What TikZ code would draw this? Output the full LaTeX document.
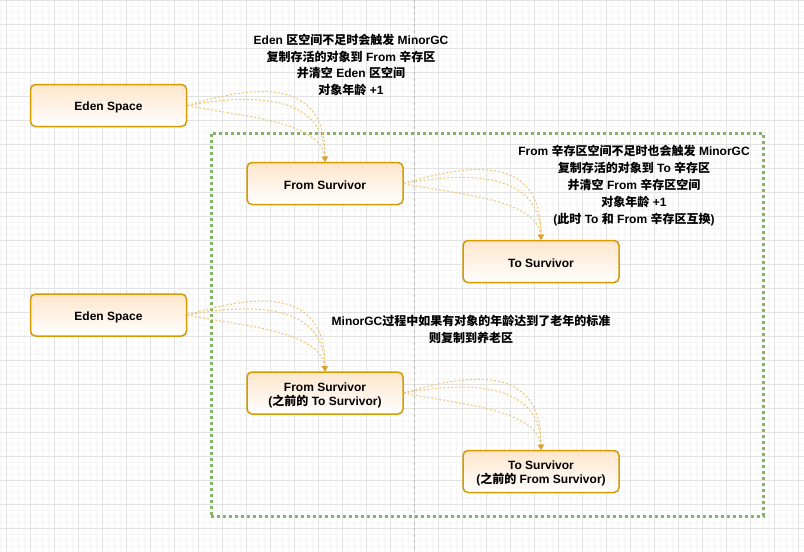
\documentclass[tikz,border=0pt]{standalone}
\usepackage{fontspec}
\setmainfont{Liberation Sans}
\newfontfamily\cjk{Noto Sans CJK SC}
\usetikzlibrary{arrows.meta}
\newcommand{\zh}[1]{{\cjk #1}}
\definecolor{nodeline}{HTML}{D79B00}
\definecolor{nodefill}{HTML}{FFE6CC}
\definecolor{edgec}{HTML}{F0C674}
\definecolor{tipc}{HTML}{E0A030}
\definecolor{grp}{HTML}{82B366}
\definecolor{gmajor}{HTML}{E2E2E2}
\definecolor{gminor}{HTML}{F6F6F6}
\definecolor{pagebr}{HTML}{BDBDBD}
\begin{document}
\begin{tikzpicture}[x=1pt,y=-1pt,
 box/.style={rectangle, rounded corners=5pt, draw=nodeline, line width=1.5pt, top color=nodefill, bottom color=white, minimum width=156pt, minimum height=42pt, inner sep=0pt},
 lbl/.style={align=center, inner sep=0pt, yshift=-2pt, font=\fontsize{12}{14}\selectfont\bfseries},
 note/.style={align=center, inner sep=0pt, font=\fontsize{12}{16.8}\selectfont\bfseries},
 flow/.style={draw=edgec, line width=1pt, dash pattern=on 2pt off 2pt, -{Triangle[length=5pt,width=5.5pt,color=tipc,fill=tipc]}},
 group/.style={draw=grp, line width=3pt, dash pattern=on 3pt off 3pt, minimum width=552pt, minimum height=383pt, inner sep=0pt}
]
\useasboundingbox (0,0) rectangle (804,552);
\fill[white] (0,0) rectangle (804,552);
% grid
\foreach \x in {0,6,...,804} \draw[gminor, line width=0.8pt] (\x,0) -- (\x,552);
\foreach \y in {0,6,...,552} \draw[gminor, line width=0.8pt] (0,\y) -- (804,\y);
\foreach \x in {6,30,...,798} \draw[gmajor, line width=1pt] (\x,0) -- (\x,552);
\foreach \y in {0,24,...,552} \draw[gmajor, line width=1pt] (0,\y) -- (804,\y);
\draw[pagebr, line width=0.8pt, dash pattern=on 3pt off 3pt] (414.5,0) -- (414.5,552);
% group
\node[group] (grpbox) at (487,324.5) {};
% nodes
\node[box, label={[lbl]center:{Eden Space}}] (e1) at (108.5,105.5) {};
\node[box, label={[lbl]center:{From Survivor}}] (f1) at (325,183.5) {};
\node[box, label={[lbl]center:{To Survivor}}] (t1) at (541,261.5) {};
\node[box, label={[lbl]center:{Eden Space}}] (e2) at (108.5,315) {};
\node[box, label={[lbl]center:{From Survivor\\(\zh{之前的} To Survivor)}}] (f2) at (325,393) {};
\node[box, label={[lbl]center:{To Survivor\\(\zh{之前的} From Survivor)}}] (t2) at (541,471.5) {};
% edges
\foreach \a/\b in {e1/f1,f1/t1,e2/f2,f2/t2}{
 \draw[flow] (\a.east) .. controls +(60,-18) and +(1,-89) .. (\b.north);
 \draw[flow] (\a.east) .. controls +(55,-10) and +(-1,-72) .. (\b.north);
 \draw[flow] (\a.east) .. controls +(45,10) and +(-4,-42) .. (\b.north);
}
% notes
\node[note] (n1) at (351,65) {Eden \zh{区空间不足时会触发} MinorGC\\\zh{复制存活的对象到} From \zh{辛存区}\\\zh{并清空} Eden \zh{区空间}\\\zh{对象年龄} +1};
\node[note] (n2) at (634,185.5) {From \zh{辛存区空间不足时也会触发} MinorGC\\\zh{复制存活的对象到} To \zh{辛存区}\\\zh{并清空} From \zh{辛存区空间}\\\zh{对象年龄} +1\\(\zh{此时} To \zh{和} From \zh{辛存区互换})};
\node[note] (n3) at (471,329.5) {MinorGC\zh{过程中如果有对象的年龄达到了老年的标准}\\\zh{则复制到养老区}};
\end{tikzpicture}
\end{document}
